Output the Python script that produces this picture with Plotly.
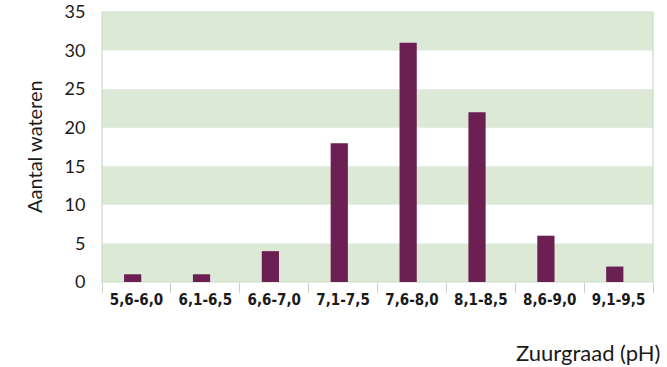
import plotly.graph_objects as go

# pH classes and number of waters per class
categories = ["5,6-6,0", "6,1-6,5", "6,6-7,0", "7,1-7,5", "7,6-8,0", "8,1-8,5", "8,6-9,0", "9,1-9,5"]
counts = [1, 1, 4, 18, 31, 22, 6, 2]
y_ticks = [0, 5, 10, 15, 20, 25, 30, 35]

band_color = "#dbe9d6"
bar_color = "#6b1f52"
text_color = "#1a1a1a"

fig = go.Figure()
fig.add_trace(go.Bar(
    x=categories, y=counts,
    marker=dict(color=bar_color, line=dict(width=0)),
    width=0.25, offset=-0.18,
    hoverinfo="x+y",
))

# alternating horizontal bands: green on 0-5, 10-15, 20-25, 30-35
shapes = []
for i in range(0, len(y_ticks) - 1, 2):
    shapes.append(dict(type="rect", xref="paper", yref="y", x0=0, x1=1,
                       y0=y_ticks[i], y1=y_ticks[i + 1],
                       fillcolor=band_color, line=dict(width=0), layer="below"))
# frame of the plotting area
shapes.append(dict(type="rect", xref="paper", yref="paper", x0=0, x1=1, y0=0, y1=1,
                   line=dict(color="#c9ddc5", width=1.2), layer="below"))

fig.update_layout(
    width=667, height=367,
    margin=dict(l=102, r=14, t=12, b=85, autoexpand=False),
    paper_bgcolor="white", plot_bgcolor="white",
    showlegend=False,
    shapes=shapes,
    font=dict(family="Lato, sans-serif", color=text_color),
    xaxis=dict(
        type="category", tickson="boundaries",
        ticks="outside", ticklen=10, tickcolor="#c8d2c8", tickwidth=1,
        ticklabelstandoff=7, tickangle=0, automargin=False,
        showgrid=False, showline=False, zeroline=False,
        tickfont=dict(family="DejaVu Sans Condensed", size=15,
                      color=text_color, weight="bold"),
        range=[-0.5, len(categories) - 0.5],
    ),
    yaxis=dict(
        range=[0, 35], tickvals=y_ticks, automargin=False,
        showgrid=False, zeroline=False, showline=False,
        ticks="outside", ticklen=12, tickcolor="rgba(0,0,0,0)",
        tickfont=dict(family="Lato, sans-serif", size=18, color=text_color),
    ),
    annotations=[
        dict(text="Aantal wateren", xref="paper", yref="paper", x=0, y=0.5,
             xshift=-82, textangle=-90, showarrow=False,
             font=dict(family="Lato, sans-serif", size=20, color=text_color)),
        dict(text="Zuurgraad (pH)", xref="paper", yref="paper", x=1, y=0,
             xanchor="right", yanchor="middle", xshift=10, yshift=-70, showarrow=False,
             font=dict(family="Lato, sans-serif", size=22, color=text_color)),
    ],
)

fig.write_html("out.html")
